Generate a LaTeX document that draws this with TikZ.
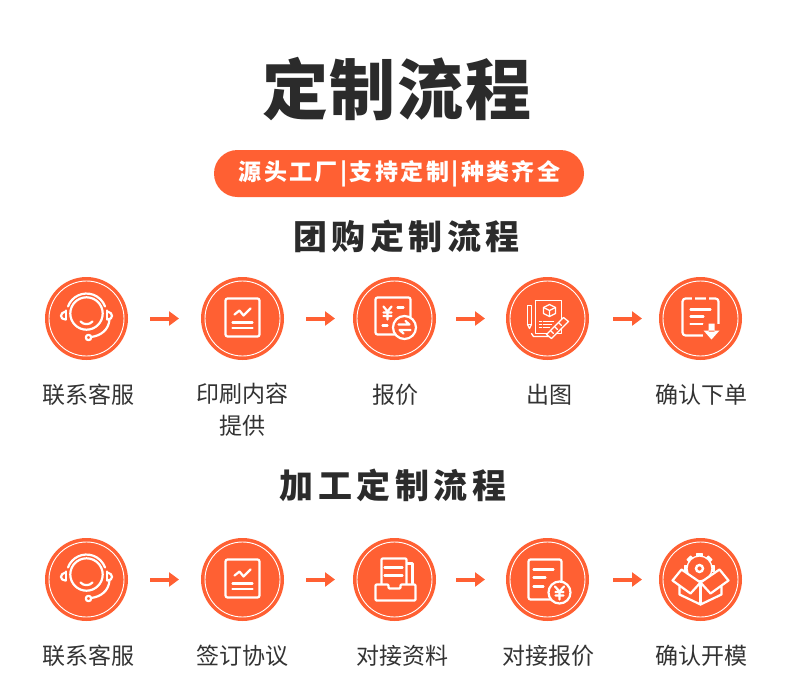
\documentclass[tikz,border=0pt]{standalone}
\usepackage{fontspec}
\usetikzlibrary{arrows.meta}
\setmainfont{Noto Sans CJK SC}
\newfontfamily\cjktitle[LetterSpace=3]{Noto Sans CJK SC}
\newfontfamily\cjkhead[LetterSpace=13]{Noto Sans CJK SC}
\newfontfamily\cjkband[LetterSpace=10.5]{Noto Sans CJK SC}
\definecolor{brand}{HTML}{FF6033}
\definecolor{ink}{HTML}{2B2B2B}
\definecolor{labelink}{HTML}{333333}
\tikzset{
  x=1pt,y=-1pt,
  disc/.style={circle,fill=brand,minimum size=83pt,inner sep=0pt,outer sep=0pt},
  ring/.style={draw=white,line width=0.9pt},
  flow/.style={draw=brand,line width=4pt,-{Triangle[length=10pt,width=14pt]}},
  ico/.style={draw=white,line width=2.2pt,line cap=round,line join=round},
  thin ico/.style={draw=white,line width=1.3pt,line cap=round,line join=round},
  steplabel/.style={text=labelink,font=\fontsize{23}{32}\selectfont,align=center,inner sep=0pt},
  headtext/.style={text=ink,font=\cjkhead\bfseries\fontsize{34}{34}\selectfont,inner sep=0pt},
  pics/headset/.style={code={
    \draw[ico] (0,-5) circle[radius=16.2];
    \draw[ico] (-18.5,-12) arc[start angle=200,end angle=340,radius=19.7];
    \draw[ico] (-20.5,-8) -- (-20.5,1) (20.5,-8) -- (20.5,1);
    \draw[ico] (-21,-7) .. controls (-27,-6) and (-27,1) .. (-21,1);
    \draw[ico] (21,-7) .. controls (27,-6) and (27,1) .. (21,1);
    \draw[ico] (-6,3) .. controls (-3,6.5) and (3,6.5) .. (6,3);
    \draw[ico] (23,1) .. controls (22,12) and (14,17) .. (5,18.5);
    \draw[ico] (2,19) circle[radius=2.7];
  }},
  pics/report/.style={code={
    \draw[ico,rounded corners=2pt] (-17,-20) rectangle (17,18);
    \draw[ico] (-8,-4) -- (-3,-8) -- (1,-3) -- (8,-10);
    \draw[ico] (-10,4) -- (10,4) (-10,9.5) -- (10,9.5);
  }},
  pics/quote/.style={code={
    \draw[ico,rounded corners=2pt] (-19,-21) rectangle (16,16);
    \draw[ico] (-11,-12) -- (-7,-7) -- (-3,-12) (-7,-7) -- (-7,1) (-11,-6) -- (-3,-6) (-11,-2.5) -- (-3,-2.5);
    \draw[ico] (3,-11) -- (9,-11) (-12,7) -- (-7,7);
    \draw[ico,fill=brand] (10,9) circle[radius=11.5];
    \draw[ico] (4,6) -- (15,6) -- (11,2.5) (16,11.5) -- (5,11.5) -- (9,15);
  }},
  pics/drawing/.style={code={
    \draw[thin ico] (-12,-18) rectangle (14,15);
    \draw[thin ico] (2,-14) -- (8,-11) -- (8,-5) -- (2,-2) -- (-4,-5) -- (-4,-11) -- cycle;
    \draw[thin ico] (-4,-11) -- (2,-8) -- (8,-11) (2,-8) -- (2,-2);
    \draw[thin ico] (-8,3) -- (-6,3) (-4,3) -- (6,3) (-8,6) -- (-6,6) (-4,6) -- (4,6) (-8,9) -- (-6,9) (-4,9) -- (2,9);
    \draw[thin ico] (-20,-13) rectangle (-16,6);
    \draw[thin ico] (-20,6) -- (-18,10) -- (-16,6);
    \draw[thin ico] (-16,15) -- (-14,18) -- (2,18);
    \draw[thin ico,fill=brand] (-1,16) -- (16,-1) -- (21,3) -- (4,20) -- cycle;
    \draw[thin ico] (3,12) -- (6,15) (7,8) -- (10,11) (11,4) -- (14,7);
  }},
  pics/confirm/.style={code={
    \draw[ico,rounded corners=3pt] (-18,-20) rectangle (18,17);
    \draw[draw=brand,line width=2.4pt] (-7,-21.5) -- (-7,-18.5) (7,-21.5) -- (7,-18.5);
    \draw[ico] (-10,-9) -- (10,-9) (-10,-2) -- (3,-2) (-10,5.5) -- (2,5.5);
    \fill[brand] (2,5) rectangle (21,23);
    \fill[white] (8,5) rectangle (14,13) (3,12) -- (19,12) -- (11,21) -- cycle;
  }},
  pics/tray/.style={code={
    \draw[ico] (12,-16) -- (18,-16) -- (18,4);
    \draw[ico,fill=brand,rounded corners=1pt] (-13,5) -- (-13,-21) -- (12,-21) -- (12,5);
    \draw[ico] (-10,-12) -- (8,-12) (-10,-4) -- (8,-4);
    \draw[ico,rounded corners=1pt,fill=brand] (-19,5) -- (-6,5) -- (-6,9) -- (6,9) -- (6,5) -- (21,5) -- (21,21) -- (-19,21) -- cycle;
  }},
  pics/bill/.style={code={
    \draw[ico,rounded corners=2pt] (-19,-20) rectangle (14,20);
    \draw[ico] (-14,-10) -- (6,-10) (-14,-2) -- (-2,-2) (-14,7) -- (-4,7);
    \draw[ico,fill=brand] (12,13) circle[radius=11];
    \draw[ico] (7.5,7) -- (12,12) -- (16.5,7) (12,12) -- (12,20) (8,12.5) -- (16,12.5) (8,16) -- (16,16);
  }},
  pics/crate/.style={code={
    \foreach \a in {0,45,...,315}
      \draw[thin ico,fill=white,rotate around={\a:(-1,-11)}] (-3.5,-26) rectangle (1.5,-22);
    \draw[thin ico,fill=brand] (-1,-11) circle[radius=12.5];
    \draw[line width=2.4pt,draw=white] (-1,-11) circle[radius=3.5];
    \draw[ico,fill=brand] (-21,7) -- (-21,15) -- (0,25) -- (21,15) -- (21,7) -- (0,3) -- cycle;
    \draw[ico] (0,3) -- (0,25);
    \draw[ico,fill=brand] (0,3) -- (-19,-10) -- (-28,1) -- (-10,14) -- cycle;
    \draw[ico,fill=brand] (0,3) -- (19,-10) -- (28,1) -- (10,14) -- cycle;
  }}
}
\begin{document}
\begin{tikzpicture}
\useasboundingbox (0,0) rectangle (790,699);
\fill[white] (0,0) rectangle (790,699);

\node[text=ink,font=\cjktitle\bfseries\fontsize{66}{66}\selectfont,inner sep=0pt] (title) at (397,89) {定制流程};
\node[fill=brand,rounded corners=23.5pt,minimum width=370pt,minimum height=47pt,inner sep=0pt] (band) at (399,173.5) {};
\node[text=white,font=\cjkband\bfseries\fontsize{23}{23}\selectfont,inner sep=0pt] (bandtext) at (399.5,173.5) {源头工厂|支持定制|种类齐全};
\node[headtext] (head1) at (406.5,236) {团购定制流程};
\node[headtext] (head2) at (393,485) {加工定制流程};

\node[disc] (a1) at (86.5,318.5) {};
\node[disc] (a2) at (242.5,318.5) {};
\node[disc] (a3) at (394.5,318.5) {};
\node[disc] (a4) at (547.5,318.5) {};
\node[disc] (a5) at (700.5,318.5) {};
\node[disc] (b1) at (86.5,579.5) {};
\node[disc] (b2) at (242.5,579.5) {};
\node[disc] (b3) at (394.5,579.5) {};
\node[disc] (b4) at (547.5,579.5) {};
\node[disc] (b5) at (700.5,579.5) {};
\foreach \c in {a1,a2,a3,a4,a5,b1,b2,b3,b4,b5}
  \draw[ring] (\c) circle[radius=37.5];

\pic at (a1) {headset};
\pic at (a2) {report};
\pic at (a3) {quote};
\pic at (a4) {drawing};
\pic at (a5) {confirm};
\pic at (b1) {headset};
\pic at (b2) {report};
\pic at (b3) {tray};
\pic at (b4) {bill};
\pic at (b5) {crate};

\foreach \r in {a,b}{
  \draw[flow,shorten <=22pt,shorten >=22pt] (\r1) -- (\r2);
  \draw[flow,shorten <=22pt,shorten >=18pt] (\r2) -- (\r3);
  \draw[flow,shorten <=20pt,shorten >=21pt] (\r3) -- (\r4);
  \draw[flow,shorten <=24pt,shorten >=17pt] (\r4) -- (\r5);
}

\node[steplabel] (la1) at (88,394.5) {联系客服};
\node[steplabel,anchor=north] (la2) at (242,383) {印刷内容\\提供};
\node[steplabel] (la3) at (395.5,394.5) {报价};
\node[steplabel] (la4) at (549,394.5) {出图};
\node[steplabel] (la5) at (701,394.5) {确认下单};
\node[steplabel] (lb1) at (88,655.5) {联系客服};
\node[steplabel] (lb2) at (242,655.5) {签订协议};
\node[steplabel] (lb3) at (402,655.5) {对接资料};
\node[steplabel] (lb4) at (548,655.5) {对接报价};
\node[steplabel] (lb5) at (701,655.5) {确认开模};
\end{tikzpicture}
\end{document}
